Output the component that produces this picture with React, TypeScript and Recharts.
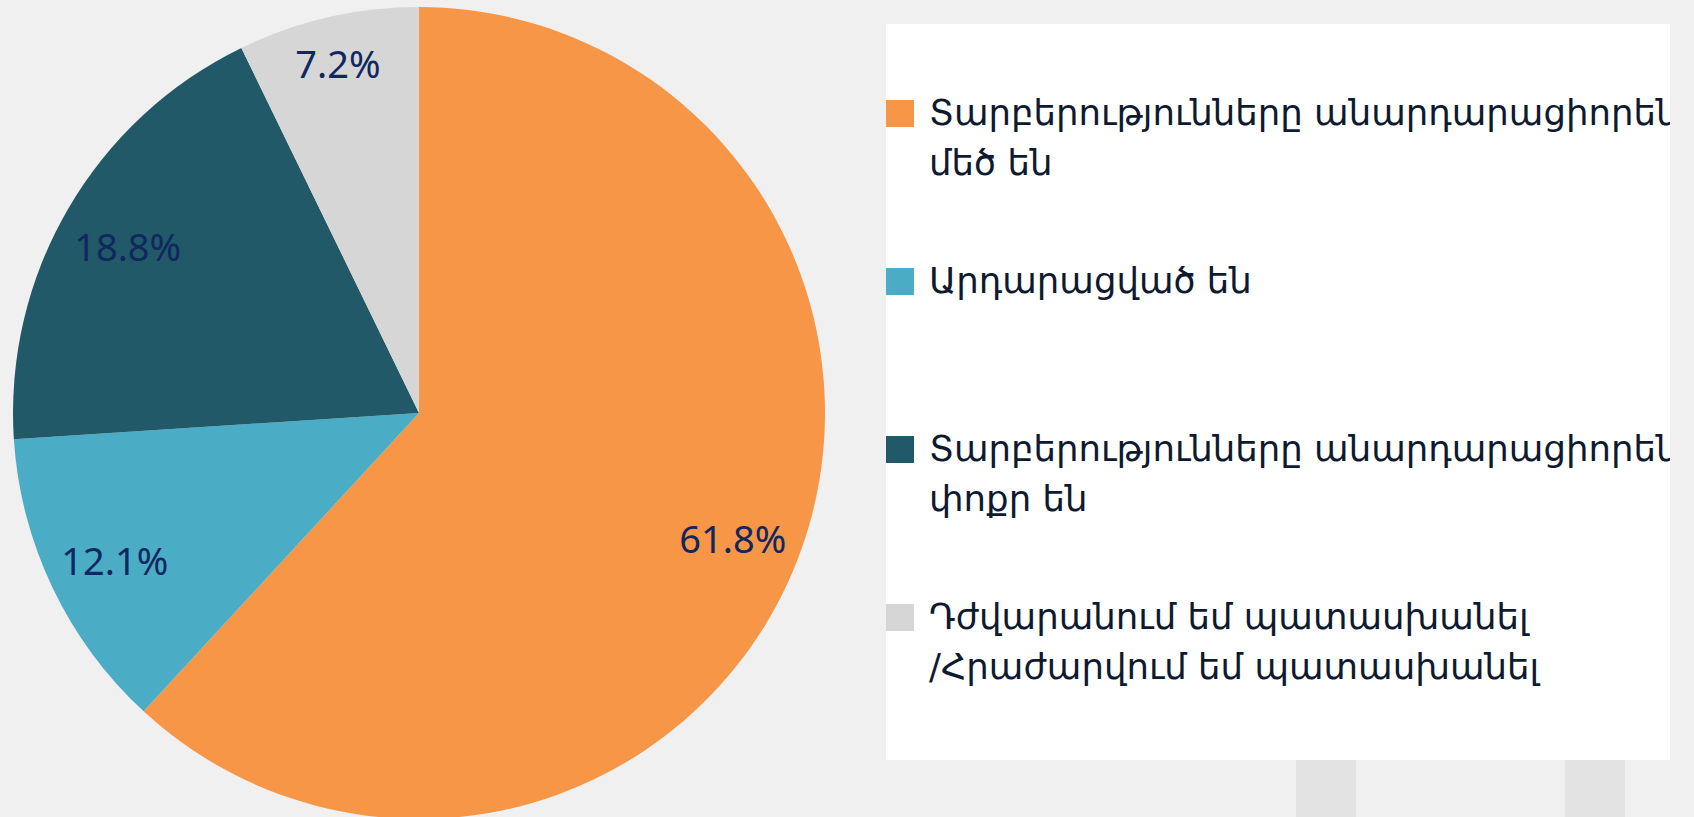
import React from "react";
import { PieChart, Pie, Cell } from "recharts";

const categories = [
  "Տարբերությունները անարդարացիորեն\nմեծ են",
  "Արդարացված են",
  "Տարբերությունները անարդարացիորեն\nփոքր են",
  "Դժվարանում եմ պատասխանել\n/Հրաժարվում եմ պատասխանել",
];
const shares = [61.8, 12.1, 18.8, 7.2];
const colors = ["#F79646", "#4BACC6", "#215968", "#D6D6D6"];
// label distance as a fraction of the radius (small slice is pushed out a bit)
const labelPos = [0.83, 0.83, 0.83, 0.89];

const chartData = categories.map((name, i) => ({ name, value: shares[i] }));

const RADIAN = Math.PI / 180;

const renderLabel = (props: any) => {
  const { cx, cy, midAngle, outerRadius, index } = props;
  const r = outerRadius * labelPos[index];
  const x = cx + r * Math.cos(-midAngle * RADIAN);
  const y = cy + r * Math.sin(-midAngle * RADIAN);
  return (
    <text
      x={x}
      y={y}
      dy={2}
      fill="#10285F"
      textAnchor="middle"
      dominantBaseline="central"
      fontFamily="'Noto Sans', 'Open Sans', sans-serif"
      fontSize={38}
    >
      {shares[index].toFixed(1)}%
    </text>
  );
};

const Legend = () => (
  <div
    style={{
      position: "absolute",
      left: 886,
      top: 24,
      width: 784,
      height: 736,
      background: "#ffffff",
      overflow: "hidden",
    }}
  >
    {categories.map((c, i) => (
      <div
        key={i}
        style={{
          position: "absolute",
          left: 0,
          top: 76 + i * 168,
          display: "flex",
          alignItems: "flex-start",
          whiteSpace: "pre",
        }}
      >
        <div style={{ width: 28, height: 27, background: colors[i], flexShrink: 0 }} />
        <div
          style={{
            marginLeft: 15,
            marginTop: -12,
            fontFamily: "'DejaVu Sans', sans-serif",
            fontSize: 35.5,
            lineHeight: "50px",
            color: "#0E1A30",
          }}
        >
          {c}
        </div>
      </div>
    ))}
  </div>
);

export default function App() {
  return (
    <div
      style={{
        position: "absolute",
        left: 0,
        top: 0,
        width: 1694,
        height: 817,
        background: "#F0F0F0",
        overflow: "hidden",
      }}
    >
      <div style={{ position: "absolute", left: 1296, top: 760, width: 60, height: 57, background: "#E3E3E3" }} />
      <div style={{ position: "absolute", left: 1565, top: 760, width: 60, height: 57, background: "#E3E3E3" }} />
      <div style={{ position: "absolute", left: 0, top: 0 }}>
        <PieChart width={850} height={817} margin={{ top: 0, right: 0, bottom: 0, left: 0 }}>
          <Pie
            data={chartData}
            dataKey="value"
            nameKey="name"
            cx={419}
            cy={413}
            outerRadius={406}
            startAngle={90}
            endAngle={-270}
            stroke="none"
            label={renderLabel}
            labelLine={false}
            isAnimationActive={false}
          >
            {chartData.map((d, i) => (
              <Cell key={d.name} fill={colors[i]} />
            ))}
          </Pie>
        </PieChart>
      </div>
      <Legend />
    </div>
  );
}
